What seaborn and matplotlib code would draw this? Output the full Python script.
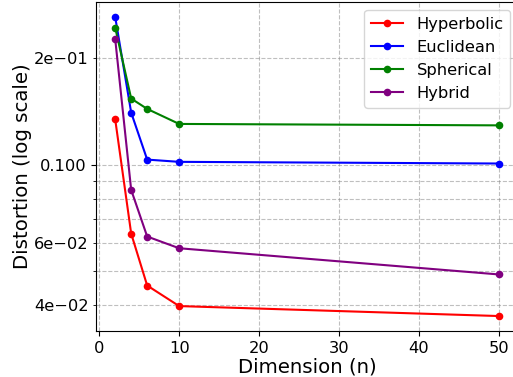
import matplotlib
matplotlib.use("Agg")
import matplotlib.pyplot as plt
import seaborn as sns
import pandas as pd
from matplotlib.ticker import ScalarFormatter, LogFormatter

dims = [2, 4, 6, 10, 50]
hyperbolic = [0.1343, 0.0638, 0.0455, 0.0398, 0.0373]
euclidean = [0.2615, 0.1403, 0.1033, 0.1018, 0.1007]
spherical = [0.2440, 0.1537, 0.1437, 0.1303, 0.1291]
hybrid = [0.2266, 0.0848, 0.0626, 0.0580, 0.0489]

series_names = ["Hyperbolic", "Euclidean", "Spherical", "Hybrid"]
series_values = [hyperbolic, euclidean, spherical, hybrid]
series_colors = ["red", "blue", "green", "purple"]

rows = []
for name, vals in zip(series_names, series_values):
    for d, v in zip(dims, vals):
        rows.append({"Dimension": d, "Distortion": v, "Method": name})
df = pd.DataFrame(rows)

fig = plt.figure(figsize=(5.13, 3.77), dpi=100)
ax = fig.add_axes([96.0 / 513, 46.0 / 377, 422.2 / 513, 329.0 / 377])

for name, color in zip(series_names, series_colors):
    sub = df[df["Method"] == name]
    sns.lineplot(data=sub, x="Dimension", y="Distortion", ax=ax, color=color,
                 marker="o", markersize=5.5, markeredgecolor=color,
                 markeredgewidth=0, linewidth=1.5, label=name)

ax.set_yscale("log")
ax.yaxis.set_major_formatter(ScalarFormatter())
ax.yaxis.set_minor_formatter(LogFormatter(labelOnlyBase=False))

ax.grid(True, which="both", linestyle="--", color="gray", alpha=0.5, linewidth=0.8)
ax.tick_params(axis="both", which="both", labelsize=11.7)
ax.set_xlabel("Dimension (n)", fontsize=14.2, labelpad=1)
ax.set_ylabel("Distortion (log scale)", fontsize=14.2, labelpad=1.5)
ax.legend(loc="upper right", fontsize=11.7)

fig.savefig("out.png", dpi=100)
